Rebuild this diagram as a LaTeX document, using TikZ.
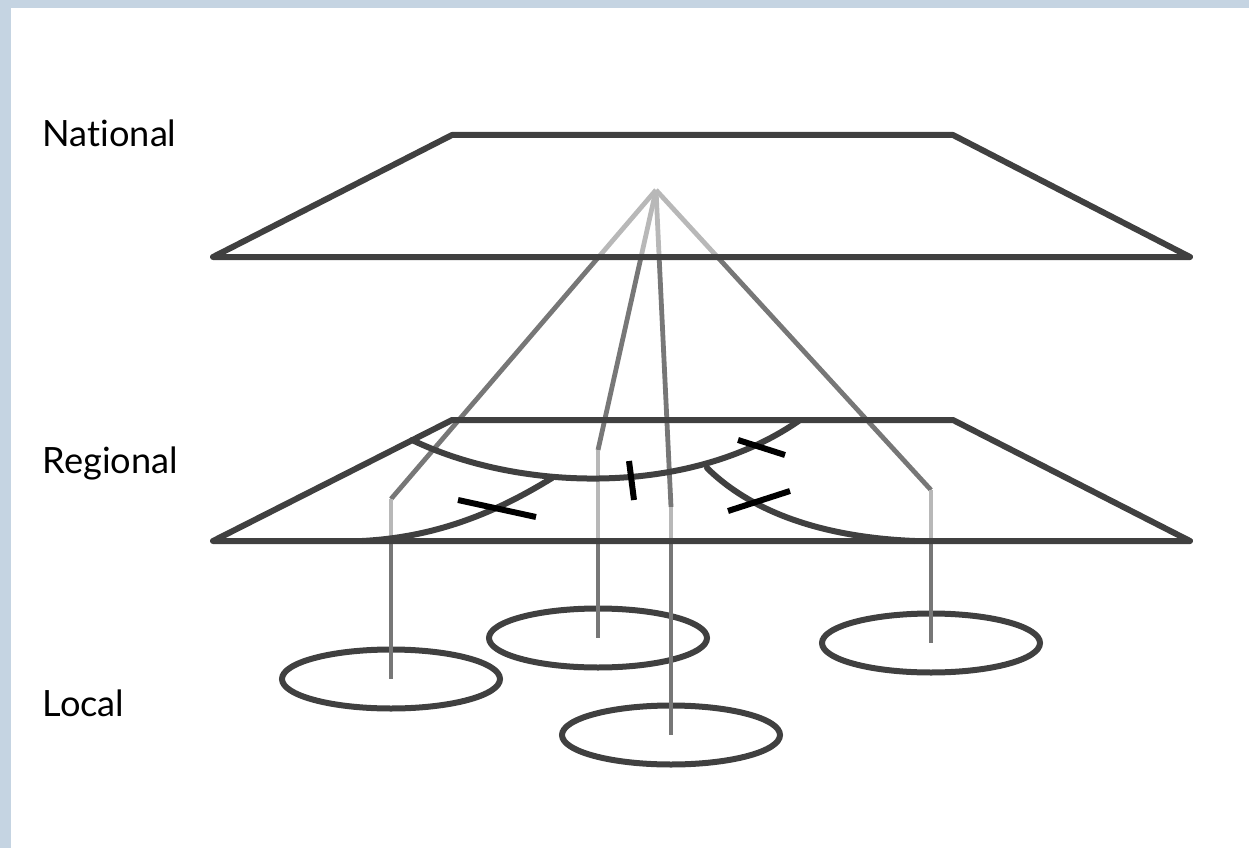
\documentclass[tikz,border=0pt]{standalone}
\usepackage{fontspec}
\setmainfont[Ligatures=NoCommon]{Lato}
\usetikzlibrary{shapes.geometric}
\definecolor{framebg}{HTML}{C5D4E2}
\definecolor{planegray}{HTML}{404040}
\definecolor{linkgray}{HTML}{777777}
\definecolor{hiddengray}{HTML}{B8B8B8}
\tikzset{
  plane/.style={draw=planegray,line width=0.6mm,line join=round,line cap=round},
  link/.style={draw=linkgray,line width=0.48mm},
  hidden/.style={draw=hiddengray,line width=0.48mm},
  cut/.style={draw=black,line width=0.6mm},
  localnode/.style={ellipse,draw=planegray,line width=0.6mm,minimum width=21.8mm,minimum height=5.9mm,inner sep=0pt},
  level/.style={anchor=base west,font=\fontsize{10.3pt}{12pt}\selectfont,inner sep=0pt}
}
\begin{document}
\begin{tikzpicture}[x=0.1mm,y=-0.1mm]
  \useasboundingbox (0,0) rectangle (1249,848);
  \fill[framebg] (0,0) rectangle (1249,8);
  \fill[framebg] (0,0) rectangle (11,848);

  \node[level] (national) at (42,147) {National};
  \node[level] (regional) at (42,473) {Regional};
  \node[level] (local) at (42,716) {Local};

  \node[localnode] (loc1) at (391,679) {};
  \node[localnode] (loc2) at (598,638) {};
  \node[localnode] (loc3) at (931,643) {};
  \node[localnode] (loc4) at (671,735) {};

  \coordinate (nbl) at (213,257);
  \coordinate (nbr) at (1190,257);
  \coordinate (rbl) at (213,541);
  \coordinate (rbr) at (1190,541);
  \coordinate (apex) at (656,190);
  \coordinate (k1) at (391,499);
  \coordinate (k2) at (598,450);
  \coordinate (k3) at (671,507);
  \coordinate (k4) at (931,490);

  \foreach \k/\e in {k1/loc1,k2/loc2,k3/loc4,k4/loc3} {
    \coordinate (\k n) at (intersection of apex--\k\space and nbl--nbr);
    \draw[hidden] (apex) -- (\k n);
    \draw[link] (\k n) -- (\k);
    \draw[hidden] (\k) -- (\k |- rbl);
    \draw[link] (\k |- rbl) -- (\e.center);
  }

  \draw[plane] (nbl) -- (452,135) -- (953,135) -- (nbr) -- cycle;
  \draw[plane] (rbl) -- (452,420) -- (953,420) -- (rbr) -- cycle;

  \draw[plane] (412,440) .. controls (520,492) and (690,497) .. (800,420);
  \draw[plane] (362,541) .. controls (440,537) and (500,510) .. (552,478);
  \draw[plane] (707,468) .. controls (760,520) and (840,538) .. (915,541);

  \draw[cut] (458,500) -- (536,517);
  \draw[cut] (629,461) -- (634,500);
  \draw[cut] (738,440) -- (785,455);
  \draw[cut] (728,511) -- (790,491);
\end{tikzpicture}
\end{document}
